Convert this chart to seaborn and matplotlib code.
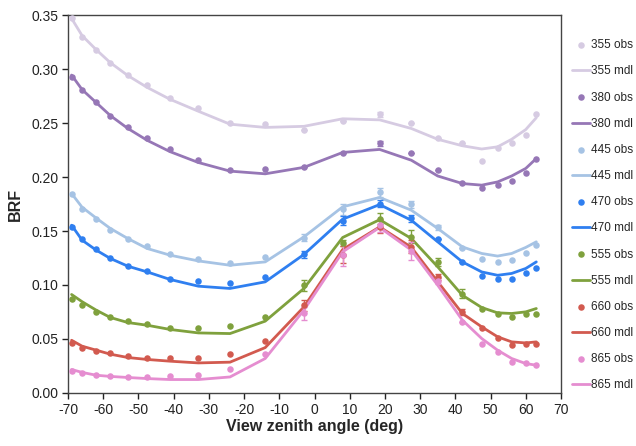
import numpy as np
import pandas as pd
import seaborn as sns
import matplotlib
matplotlib.use('Agg')
import matplotlib.pyplot as plt

# view zenith angles (deg)
vza = [-69, -66, -62, -58, -53, -47.5, -41, -33, -24, -14, -3,
       8, 18.5, 27.5, 35, 42, 47.5, 52, 56, 60, 63]

bands = ['355', '380', '445', '470', '555', '660', '865']
colors = ['#d6cbe2', '#9677b6', '#a6c3e4', '#2f7ff0', '#7fa13d', '#d25a4f', '#e58dd0']

obs_355 = [0.347, 0.330, 0.318, 0.306, 0.295, 0.285, 0.273, 0.264, 0.250, 0.249, 0.244,
           0.252, 0.258, 0.250, 0.236, 0.232, 0.2145, 0.2265, 0.232, 0.239, 0.258]
mdl_355 = [0.347, 0.331, 0.318, 0.306, 0.294, 0.283, 0.272, 0.261, 0.249, 0.246, 0.247,
           0.254, 0.253, 0.245, 0.235, 0.229, 0.226, 0.228, 0.235, 0.244, 0.255]

obs_380 = [0.293, 0.281, 0.270, 0.257, 0.246, 0.236, 0.226, 0.216, 0.207, 0.2077, 0.2089,
           0.2219, 0.2311, 0.2219, 0.2064, 0.1946, 0.190, 0.1922, 0.1965, 0.204, 0.2166]
mdl_380 = [0.2945, 0.281, 0.269, 0.257, 0.245, 0.234, 0.2235, 0.2135, 0.2055, 0.203, 0.209,
           0.2228, 0.2256, 0.2156, 0.201, 0.194, 0.1925, 0.1955, 0.201, 0.208, 0.2172]

obs_445 = [0.1839, 0.170, 0.161, 0.1514, 0.143, 0.136, 0.1285, 0.124, 0.1205, 0.1255, 0.144,
           0.1702, 0.1857, 0.1746, 0.1533, 0.1344, 0.1245, 0.1214, 0.1236, 0.1292, 0.1369]
mdl_445 = [0.1848, 0.172, 0.162, 0.1524, 0.143, 0.1338, 0.1276, 0.1223, 0.1183, 0.1214, 0.1446,
           0.1724, 0.1811, 0.1693, 0.1524, 0.1353, 0.1292, 0.1268, 0.1292, 0.1348, 0.140]

obs_470 = [0.1533, 0.1422, 0.1332, 0.1251, 0.1177, 0.1126, 0.1057, 0.1038, 0.1023, 0.107, 0.1283,
           0.1595, 0.1755, 0.1617, 0.1422, 0.121, 0.1082, 0.106, 0.1054, 0.1112, 0.1162]
mdl_470 = [0.1554, 0.1415, 0.1323, 0.1246, 0.1174, 0.1121, 0.1051, 0.0989, 0.0968, 0.1029, 0.1283,
           0.161, 0.1745, 0.160, 0.140, 0.1214, 0.1121, 0.109, 0.1107, 0.1153, 0.1214]

obs_555 = [0.087, 0.0813, 0.0751, 0.0705, 0.0667, 0.0637, 0.0606, 0.0597, 0.0618, 0.0705, 0.0998,
           0.139, 0.1616, 0.1446, 0.1214, 0.0921, 0.0782, 0.0727, 0.0699, 0.0727, 0.073]
mdl_555 = [0.0912, 0.0845, 0.0767, 0.0699, 0.0652, 0.0627, 0.0588, 0.0556, 0.055, 0.0665, 0.0968,
           0.144, 0.1605, 0.1431, 0.1168, 0.0905, 0.0791, 0.0742, 0.0736, 0.0751, 0.0782]

obs_660 = [0.0458, 0.042, 0.039, 0.0371, 0.0343, 0.0325, 0.0325, 0.0325, 0.0359, 0.0479, 0.0813,
           0.128, 0.1538, 0.1353, 0.1075, 0.0751, 0.0597, 0.051, 0.0442, 0.0451, 0.0451]
mdl_660 = [0.0488, 0.0433, 0.0396, 0.0359, 0.0328, 0.031, 0.0294, 0.0278, 0.0285, 0.042, 0.0797,
           0.1329, 0.1538, 0.135, 0.103, 0.0736, 0.0612, 0.052, 0.0473, 0.0463, 0.0473]

obs_865 = [0.0201, 0.018, 0.017, 0.0158, 0.0148, 0.0143, 0.0155, 0.017, 0.0226, 0.0365, 0.0736,
           0.1277, 0.1554, 0.1316, 0.1035, 0.0658, 0.0451, 0.038, 0.0287, 0.0278, 0.0263]
mdl_865 = [0.0217, 0.019, 0.0164, 0.0153, 0.0143, 0.0133, 0.0124, 0.0124, 0.0148, 0.0319, 0.0767,
           0.1307, 0.1533, 0.1323, 0.0998, 0.0674, 0.0504, 0.0396, 0.0319, 0.0272, 0.0257]

# error bars (std of obs) near the hot spot, angles -3 .. 42
err_idx = [10, 11, 12, 13, 14, 15]
err_355 = [0.0, 0.0, 0.002, 0.0, 0.0, 0.0]
err_380 = [0.0, 0.0, 0.002, 0.0, 0.0, 0.0]
err_445 = [0.003, 0.005, 0.004, 0.003, 0.002, 0.0]
err_470 = [0.003, 0.004, 0.003, 0.003, 0.0, 0.0]
err_555 = [0.005, 0.003, 0.005, 0.006, 0.004, 0.004]
err_660 = [0.005, 0.008, 0.006, 0.006, 0.003, 0.003]
err_865 = [0.006, 0.010, 0.006, 0.008, 0.003, 0.0]

obs = [obs_355, obs_380, obs_445, obs_470, obs_555, obs_660, obs_865]
mdl = [mdl_355, mdl_380, mdl_445, mdl_470, mdl_555, mdl_660, mdl_865]
errs = [err_355, err_380, err_445, err_470, err_555, err_660, err_865]


def main():
    sns.set_style('white')
    plt.rcParams['font.family'] = ['Liberation Sans', 'DejaVu Sans']
    plt.rcParams['axes.unicode_minus'] = False

    fig = plt.figure(figsize=(6.36, 4.46), dpi=100)
    ax = fig.add_axes([0.107, 0.119, 0.775, 0.847])

    for b, c, o, m, e in zip(bands, colors, obs, mdl, errs):
        ex = [vza[i] for i in err_idx]
        ey = [o[i] for i in err_idx]
        ax.errorbar(ex, ey, yerr=e, fmt='none', ecolor=c, elinewidth=1.0,
                    capsize=2.5, capthick=1.0, zorder=2)
        sns.scatterplot(x=vza, y=o, ax=ax, color=c, s=28, linewidth=0,
                        label=f'{b} obs', zorder=3)
        sns.lineplot(x=vza, y=m, ax=ax, color=c, linewidth=2.0,
                     label=f'{b} mdl', zorder=2)

    ax.set_xlim(-70, 70)
    ax.set_ylim(0, 0.35)
    ax.set_xticks(np.arange(-70, 71, 10))
    ax.set_yticks(np.arange(0, 0.351, 0.05))
    ax.set_yticklabels([f'{v:.2f}' for v in np.arange(0, 0.351, 0.05)])
    ax.tick_params(axis='both', labelsize=10, direction='out', length=4,
                   width=1, colors='#222222', pad=3)
    ax.tick_params(left=True, bottom=True)
    for s in ax.spines.values():
        s.set_color('#444444')
        s.set_linewidth(1.0)

    ax.set_xlabel('View zenith angle (deg)', fontsize=11.5, fontweight='bold', labelpad=2)
    ax.set_ylabel('BRF', fontsize=11.5, fontweight='bold', labelpad=6)

    h, l = ax.get_legend_handles_labels()
    for hh in h:
        if hasattr(hh, 'set_sizes'):
            hh.set_sizes([22])
    ax.legend(h, l, loc='upper left', bbox_to_anchor=(1.008, 0.955),
              frameon=False, fontsize=8.5, handlelength=1.5,
              handletextpad=0.1, labelspacing=1.2, borderaxespad=0.2)

    plt.savefig('out.png', dpi=100)


if __name__ == '__main__':
    main()
